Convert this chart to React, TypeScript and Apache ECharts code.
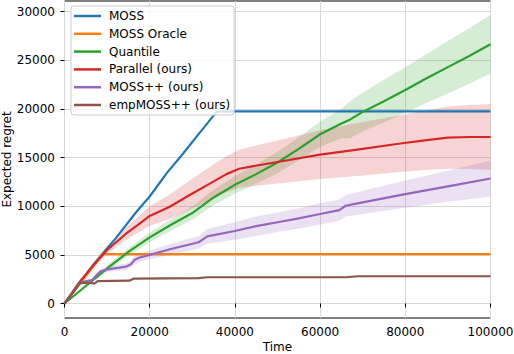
import React, { useEffect, useRef } from "react";
import * as echarts from "echarts";

const FONT = "DejaVu Sans";

const xTicks = [0, 20000, 40000, 60000, 80000, 100000];
const yTicks = [0, 5000, 10000, 15000, 20000, 25000, 30000];

const seriesNames = ["MOSS", "MOSS Oracle", "Quantile", "Parallel (ours)", "MOSS++ (ours)", "empMOSS++ (ours)"];
const colors = ["#1f77b4", "#ff7f0e", "#2ca02c", "#d62728", "#9467bd", "#8c564b"];

const mossT = [0, 3000, 6700, 12000, 16900, 20000, 24000, 27800, 32000, 35700, 35900, 100000];
const mossV = [0, 1750, 3950, 6700, 9430, 11000, 13400, 15400, 17700, 19700, 19750, 19750];

const oracleT = [0, 4000, 9000, 100000];
const oracleV = [0, 2250, 5080, 5080];

const quantT = [0, 5000, 10000, 15000, 20000, 25000, 30000, 35000, 40000, 45000, 50000, 55000, 60000, 65000, 67000, 70000, 75000, 80000, 85000, 90000, 95000, 100000];
const quantV = [0, 1800, 3600, 5300, 6800, 8100, 9300, 10900, 12200, 13300, 14500, 15900, 17400, 18500, 18900, 19700, 20800, 21950, 23150, 24300, 25450, 26650];
const quantUp = [0, 1950, 3900, 5700, 7300, 8700, 10000, 11700, 13100, 14300, 15600, 17100, 18700, 20000, 20800, 21700, 23000, 24300, 25650, 27000, 28300, 29650];
const quantLo = [0, 1650, 3300, 4900, 6300, 7500, 8600, 10100, 11300, 12300, 13400, 14700, 16100, 17000, 17000, 17700, 18600, 19600, 20650, 21600, 22600, 23650];

const parT = [0, 3000, 6700, 10000, 14500, 17000, 20000, 24700, 29400, 34000, 38000, 41000, 44000, 50000, 60000, 70000, 78000, 85000, 90000, 95000, 100000];
const parV = [0, 1900, 3900, 5500, 7200, 8000, 9000, 9950, 11150, 12300, 13300, 13850, 14100, 14550, 15300, 15900, 16400, 16800, 17050, 17120, 17120];
const parUp = [0, 2050, 4200, 5900, 7850, 8800, 10000, 11200, 12650, 14000, 15150, 15800, 16150, 16750, 17800, 18650, 19300, 19850, 20250, 20420, 20520];
const parLo = [0, 1750, 3600, 5100, 6550, 7200, 8000, 8700, 9650, 10600, 11450, 11900, 12050, 12350, 12800, 13150, 13500, 13750, 13850, 13820, 13720];

const mppT = [0, 2000, 3500, 4000, 6500, 7500, 8500, 10000, 14500, 15500, 16500, 17500, 20000, 25000, 31500, 32500, 33500, 40000, 45000, 50000, 55000, 60000, 64500, 66000, 70000, 80000, 90000, 100000];
const mppV = [0, 1150, 2050, 2200, 2400, 2900, 3300, 3500, 3800, 4000, 4500, 4700, 5000, 5600, 6300, 6600, 6900, 7450, 7950, 8350, 8750, 9200, 9600, 10050, 10400, 11250, 12050, 12850];
const mppUp = [0, 1200, 2130, 2300, 2550, 3080, 3500, 3750, 4150, 4380, 4900, 5120, 5450, 6150, 6950, 7300, 7650, 8350, 8950, 9350, 9800, 10300, 10700, 11150, 11600, 12650, 13650, 14700];
const mppLo = [0, 1100, 1970, 2100, 2250, 2720, 3100, 3250, 3450, 3620, 4100, 4280, 4550, 5050, 5650, 5900, 6150, 6550, 6950, 7350, 7700, 8100, 8500, 8950, 9200, 9850, 10450, 11000];

const empT = [0, 2000, 3500, 4500, 6500, 7000, 7800, 15200, 16200, 31500, 33500, 66000, 69000, 100000];
const empV = [0, 1150, 2050, 2150, 2100, 2050, 2300, 2350, 2550, 2600, 2700, 2700, 2800, 2800];

const zip = (t: number[], v: number[]) => t.map((x, i) => [x, v[i]]);

function band(t: number[], up: number[], lo: number[], fill: string) {
  return {
    type: "custom",
    silent: true,
    z: 1,
    clip: true,
    data: [[0, 0]],
    renderItem: (_p: any, api: any) => {
      const pts: number[][] = [];
      for (let i = 0; i < t.length; i++) pts.push(api.coord([t[i], up[i]]));
      for (let i = t.length - 1; i >= 0; i--) pts.push(api.coord([t[i], lo[i]]));
      return { type: "polygon", shape: { points: pts }, style: { fill } };
    },
  };
}

function line(name: string, t: number[], v: number[], color: string, z: number) {
  return {
    type: "line",
    name,
    data: zip(t, v),
    showSymbol: false,
    symbol: "none",
    color,
    z,
    lineStyle: { color, width: 2.2 },
  };
}

export default function App() {
  const ref = useRef<HTMLDivElement>(null);
  useEffect(() => {
    if (!ref.current) return;
    const chart = echarts.init(ref.current, undefined, { renderer: "svg" });
    const txt = { fontFamily: FONT, fontSize: 12, color: "#000" };
    const fmt = (v: number) => String(v);
    chart.setOption({
      animation: false,
      backgroundColor: "#fff",
      grid: {
        left: 64.5,
        top: 1,
        width: 426,
        height: 317,
        show: true,
        borderColor: "#000",
        borderWidth: 1,
        backgroundColor: "transparent",
        containLabel: false,
        outerBoundsMode: "none",
      },
      legend: {
        data: seriesNames,
        orient: "vertical",
        left: 71,
        top: 6,
        icon: "rect",
        itemWidth: 27,
        itemHeight: 2.5,
        itemGap: 3.8,
        padding: [3, 4, 3, 3],
        backgroundColor: "rgba(255,255,255,0.8)",
        borderColor: "#cccccc",
        borderWidth: 1,
        borderRadius: 3,
        textStyle: { ...txt, lineHeight: 14, padding: [0, 0, 0, 3] },
      },
      xAxis: {
        type: "value",
        min: 0,
        max: 100000,
        interval: 20000,
        name: "Time",
        nameLocation: "middle",
        nameGap: 23,
        nameMoveOverlap: false,
        nameTextStyle: txt,
        axisLine: { show: false },
        axisTick: { show: true, length: 4, lineStyle: { color: "#000" } },
        axisLabel: { ...txt, margin: 8, customValues: xTicks, formatter: fmt },
        splitLine: { show: true, lineStyle: { color: "#d8d8d8", width: 1 } },
      },
      yAxis: {
        type: "value",
        min: -1490,
        max: 31100,
        name: "Expected regret",
        nameLocation: "middle",
        nameGap: 52,
        nameMoveOverlap: false,
        nameTextStyle: txt,
        axisLine: { show: false },
        axisTick: { show: true, length: 4, lineStyle: { color: "#000" }, customValues: yTicks },
        axisLabel: { ...txt, margin: 9.5, customValues: yTicks, formatter: fmt },
        splitLine: { show: true, lineStyle: { color: "#d8d8d8", width: 1 } },
      },
      series: [
        band(quantT, quantUp, quantLo, "rgba(44,160,44,0.2)"),
        band(parT, parUp, parLo, "rgba(214,39,40,0.2)"),
        band(mppT, mppUp, mppLo, "rgba(148,103,189,0.2)"),
        line(seriesNames[0], mossT, mossV, colors[0], 2),
        line(seriesNames[1], oracleT, oracleV, colors[1], 3),
        line(seriesNames[2], quantT, quantV, colors[2], 4),
        line(seriesNames[3], parT, parV, colors[3], 5),
        line(seriesNames[4], mppT, mppV, colors[4], 6),
        line(seriesNames[5], empT, empV, colors[5], 7),
      ],
    });
    return () => chart.dispose();
  }, []);
  return <div ref={ref} style={{ width: 514, height: 354, position: "absolute", left: 0, top: 0 }} />;
}
